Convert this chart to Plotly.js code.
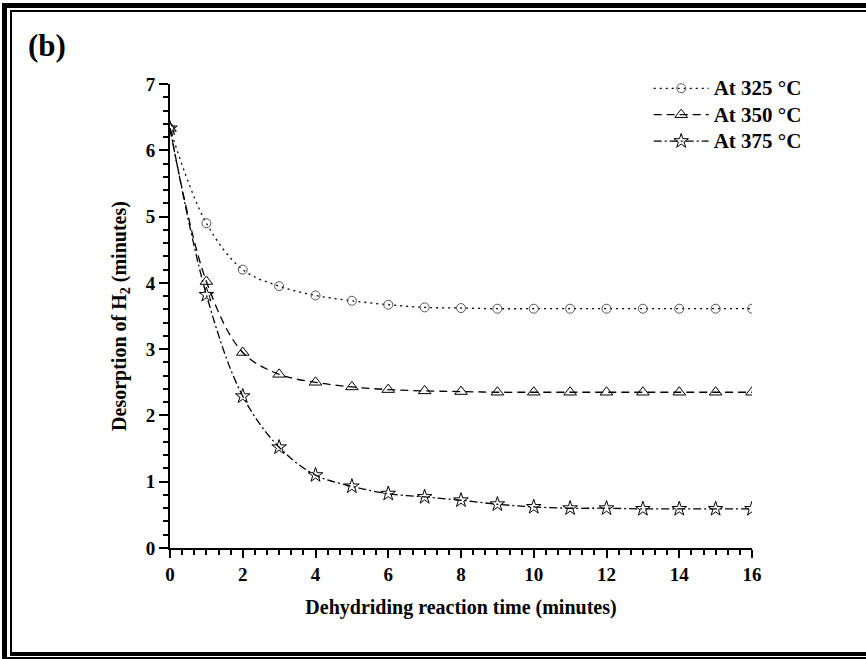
<!DOCTYPE html>
<html>
<head>
<meta charset="utf-8">
<script src="https://cdn.plot.ly/plotly-3.0.1.min.js"></script>
<style>
  html, body { margin: 0; padding: 0; background: #fff; }
  #wrap { position: relative; width: 866px; height: 659px; overflow: hidden; }
  #chart { position: absolute; left: 0; top: 0; width: 866px; height: 659px; }
  .rule { position: absolute; background: #000; pointer-events: none; }
</style>
</head>
<body>
<div id="wrap">
  <div id="chart"></div>
  <!-- double frame round the panel -->
  <div class="rule" style="left:2px; top:3px; width:864px; height:5px;"></div>
  <div class="rule" style="left:2px; top:3px; width:5px; height:656px;"></div>
  <div class="rule" style="left:10px; top:10px; width:856px; height:2px;"></div>
  <div class="rule" style="left:10px; top:10px; width:2px; height:643px;"></div>
  <div class="rule" style="left:10px; top:652px; width:856px; height:4px;"></div>
  <div class="rule" style="left:2px; top:657px; width:864px; height:2px;"></div>
</div>
<script>
// Dehydriding reaction time (minutes)
const time = [0, 1, 2, 3, 4, 5, 6, 7, 8, 9, 10, 11, 12, 13, 14, 15, 16];

// H2 desorption at each temperature
const at325 = [6.33, 4.90, 4.20, 3.95, 3.81, 3.73, 3.67, 3.63, 3.62, 3.61, 3.61, 3.61, 3.61, 3.61, 3.61, 3.61, 3.61];
const at350 = [6.33, 4.02, 2.95, 2.62, 2.50, 2.43, 2.39, 2.37, 2.36, 2.35, 2.35, 2.35, 2.35, 2.35, 2.35, 2.35, 2.35];
const at375 = [6.33, 3.82, 2.29, 1.52, 1.10, 0.93, 0.82, 0.77, 0.72, 0.66, 0.62, 0.60, 0.60, 0.59, 0.59, 0.59, 0.59];

const seriesNames = ['At 325 °C', 'At 350 °C', 'At 375 °C'];

const serif = 'Liberation Serif, Times New Roman, serif';

function series(y, name, dash, symbol, mcolor, msize) {
  return {
    x: time, y: y, type: 'scatter', mode: 'lines+markers',
    name: '<span style="font-size:21px">' + name + '</span>',
    line: { color: '#000', width: 1.3, dash: dash, shape: 'spline', smoothing: 1 },
    marker: { symbol: symbol, size: msize, color: mcolor, line: { color: mcolor, width: 1 } }
  };
}

const data = [
  series(at325, seriesNames[0], '2px,4px', 'circle-open', '#555', 9),
  series(at350, seriesNames[1], '8px,5px', 'triangle-up-open', '#000', 11),
  series(at375, seriesNames[2], '8px,3px,2px,3px', 'star-open', '#000', 11)
];

const axisFont = { family: serif, size: 19, color: '#000', weight: 'bold' };
const titleFont = { family: serif, size: 20, color: '#000', weight: 'bold' };

const layout = {
  width: 866, height: 659,
  margin: { l: 170, r: 114, t: 84, b: 111 },
  paper_bgcolor: '#fff', plot_bgcolor: '#fff',
  showlegend: true,
  legend: {
    x: 1.094, xanchor: 'right', y: 1.03, yanchor: 'top',
    font: { family: serif, size: 18, color: '#000', weight: 'bold' },
    bgcolor: 'rgba(0,0,0,0)', borderwidth: 0, itemwidth: 55, tracegroupgap: 0
  },
  xaxis: {
    range: [0, 16], tickmode: 'linear', dtick: 2, tick0: 0,
    showline: true, linecolor: '#000', linewidth: 2,
    ticks: 'outside', ticklen: 8, tickwidth: 2, tickcolor: '#000',
    minor: { tickmode: 'linear', tick0: 0, dtick: 1 / 3, ticks: 'outside', ticklen: 5, tickwidth: 2, tickcolor: '#000' },
    showgrid: false, zeroline: false,
    tickfont: axisFont,
    title: { text: 'Dehydriding reaction time (minutes)', font: titleFont, standoff: 16 }
  },
  yaxis: {
    range: [0, 7], tickmode: 'linear', dtick: 1, tick0: 0,
    showline: true, linecolor: '#000', linewidth: 2,
    ticks: 'outside', ticklen: 9, tickwidth: 2, tickcolor: '#000',
    minor: { tickmode: 'linear', tick0: 0, dtick: 0.2, ticks: 'outside', ticklen: 5, tickwidth: 2, tickcolor: '#000' },
    showgrid: false, zeroline: false,
    tickfont: axisFont,
    title: { text: 'Desorption of H<sub>2</sub> (minutes)', font: titleFont, standoff: 14 }
  },
  annotations: [{
    text: '(b)', xref: 'paper', yref: 'paper',
    x: -0.247, xanchor: 'left', y: 1.125, yanchor: 'top',
    showarrow: false,
    font: { family: serif, size: 31, color: '#000', weight: 'bold' }
  }]
};

Plotly.newPlot('chart', data, layout, { staticPlot: true, displayModeBar: false });
</script>
</body>
</html>
